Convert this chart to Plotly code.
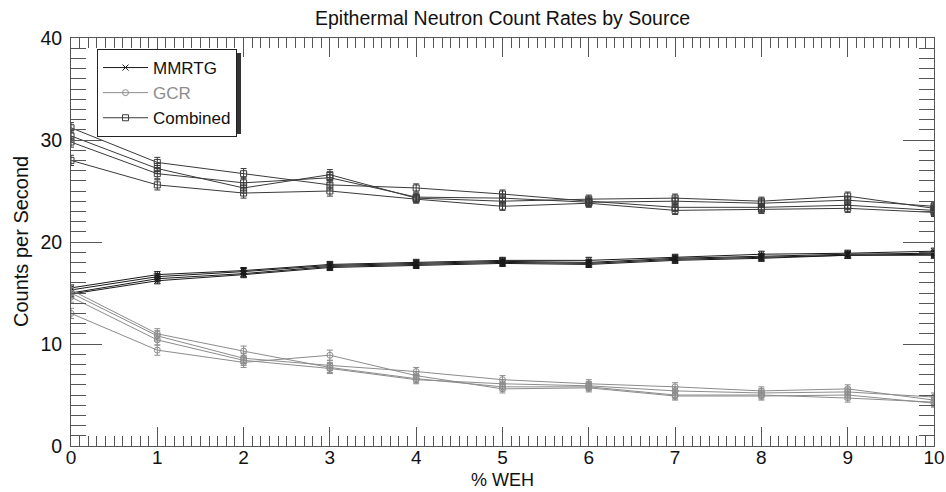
import plotly.graph_objects as go

weh = [0, 1, 2, 3, 4, 5, 6, 7, 8, 9, 10]

# MMRTG runs (counts per second)
mmrtg_runs = [
    [15.0, 16.4, 16.9, 17.6, 17.8, 18.0, 17.9, 18.3, 18.5, 18.7, 18.8],
    [15.5, 16.8, 17.2, 17.8, 18.0, 18.2, 18.2, 18.5, 18.8, 18.9, 19.1],
    [15.3, 16.6, 17.1, 17.7, 17.9, 18.1, 18.0, 18.4, 18.6, 18.8, 18.9],
    [14.9, 16.2, 16.8, 17.5, 17.7, 17.9, 17.8, 18.2, 18.4, 18.7, 18.7],
]
mmrtg_err = [0.3, 0.3, 0.3, 0.3, 0.3, 0.3, 0.3, 0.3, 0.3, 0.3, 0.3]

# GCR runs
gcr_runs = [
    [15.3, 11.0, 9.3, 7.7, 6.6, 5.8, 5.8, 5.0, 5.0, 4.7, 4.3],
    [15.0, 10.8, 8.6, 7.9, 7.3, 6.5, 6.1, 5.8, 5.4, 5.6, 4.5],
    [14.6, 10.4, 8.4, 7.6, 6.5, 6.1, 5.9, 5.4, 5.2, 5.3, 4.8],
    [13.0, 9.4, 8.2, 8.9, 6.9, 5.6, 5.7, 4.9, 4.9, 5.0, 4.2],
]
gcr_err = [0.5, 0.5, 0.5, 0.5, 0.4, 0.4, 0.4, 0.4, 0.4, 0.4, 0.4]

# Combined runs
comb_runs = [
    [31.2, 27.8, 26.7, 25.6, 25.3, 24.7, 24.0, 23.4, 23.4, 23.6, 23.1],
    [30.4, 27.2, 25.3, 26.6, 24.3, 24.0, 24.2, 24.3, 24.0, 24.5, 23.3],
    [29.8, 26.7, 25.8, 26.3, 24.4, 24.3, 23.9, 24.0, 23.8, 24.1, 23.5],
    [28.0, 25.6, 24.8, 25.0, 24.2, 23.5, 23.8, 23.1, 23.2, 23.3, 22.9],
]
comb_err = [0.5, 0.5, 0.5, 0.5, 0.4, 0.4, 0.4, 0.4, 0.4, 0.4, 0.4]

series = [
    ("MMRTG", mmrtg_runs, mmrtg_err, "#1a1a1a", "x-thin-open", 6),
    ("<span style='color:#8c8c8c'>GCR</span>", gcr_runs, gcr_err, "#8c8c8c", "circle-open", 6),
    ("Combined", comb_runs, comb_err, "#3a3a3a", "square-open", 6),
]

fig = go.Figure()
for name, runs, err, color, sym, size in series:
    for i, run in enumerate(runs):
        fig.add_trace(go.Scatter(
            x=weh, y=run, mode="lines+markers", name=name,
            legendgroup=name, showlegend=(i == 0),
            line=dict(color=color, width=1),
            marker=dict(symbol=sym, size=size, color=color,
                        line=dict(color=color, width=1)),
            error_y=dict(type="data", array=err, visible=True,
                         color=color, thickness=1, width=3),
        ))

axis_color = "#555555"
font = "Liberation Sans, Arial, Helvetica, sans-serif"
L, R, T, B = 71, 12, 38, 46
W, H = 946, 492
pw, ph = W - L - R, H - T - B

fig.update_layout(
    width=W, height=H,
    margin=dict(l=L, r=R, t=T, b=B, autoexpand=False),
    paper_bgcolor="white", plot_bgcolor="white",
    font=dict(family=font, color="#111111"),
    title=dict(text="Epithermal Neutron Count Rates by Source",
               x=(L + W - R) / 2 / W, xanchor="center",
               y=1 - 18 / H, yanchor="middle",
               font=dict(size=19.5, color="#111111")),
    showlegend=True,
    legend=dict(x=(97 - L) / pw, y=(H - B - 49) / ph, xanchor="left", yanchor="top",
                bgcolor="white", bordercolor="#222222", borderwidth=1,
                font=dict(size=17, color="#111111"),
                tracegroupgap=0, itemwidth=45),
    xaxis=dict(range=[0, 10], dtick=1, tick0=0, automargin=False,
               showgrid=False, zeroline=False,
               showline=True, linecolor=axis_color, linewidth=1, mirror="ticks",
               ticks="inside", ticklen=19, tickcolor=axis_color, tickwidth=1,
               ticklabelstandoff=-6,
               tickfont=dict(size=19, color="#111111"),
               minor=dict(dtick=0.1, ticks="inside", ticklen=10,
                          tickcolor=axis_color, tickwidth=1, showgrid=False)),
    yaxis=dict(range=[0, 40], dtick=10, tick0=0, automargin=False,
               showgrid=False, zeroline=False,
               showline=True, linecolor=axis_color, linewidth=1, mirror="ticks",
               ticks="inside", ticklen=31, tickcolor=axis_color, tickwidth=1,
               ticklabelstandoff=4,
               tickfont=dict(size=19.5, color="#111111"),
               minor=dict(dtick=1, ticks="inside", ticklen=15,
                          tickcolor=axis_color, tickwidth=1, showgrid=False)),
)

# axis titles
fig.add_annotation(text="% WEH", xref="paper", yref="paper",
                   x=0.5, y=-(491 - (H - B)) / ph, xanchor="center", yanchor="bottom",
                   borderpad=0, showarrow=False, font=dict(size=18, color="#111111"))
fig.add_annotation(text="Counts per Second", xref="paper", yref="paper",
                   x=-(L - 21) / pw, y=0.5, xanchor="center", yanchor="middle",
                   textangle=-90, showarrow=False, font=dict(size=20, color="#111111"))

# drop shadow behind legend box
fig.add_shape(type="rect", xref="paper", yref="paper",
              x0=(101 - L) / pw, x1=(241 - L) / pw,
              y0=(H - B - 134) / ph, y1=(H - B - 53) / ph,
              fillcolor="#333333", line=dict(width=0), layer="above")

fig.write_html("out.html")
